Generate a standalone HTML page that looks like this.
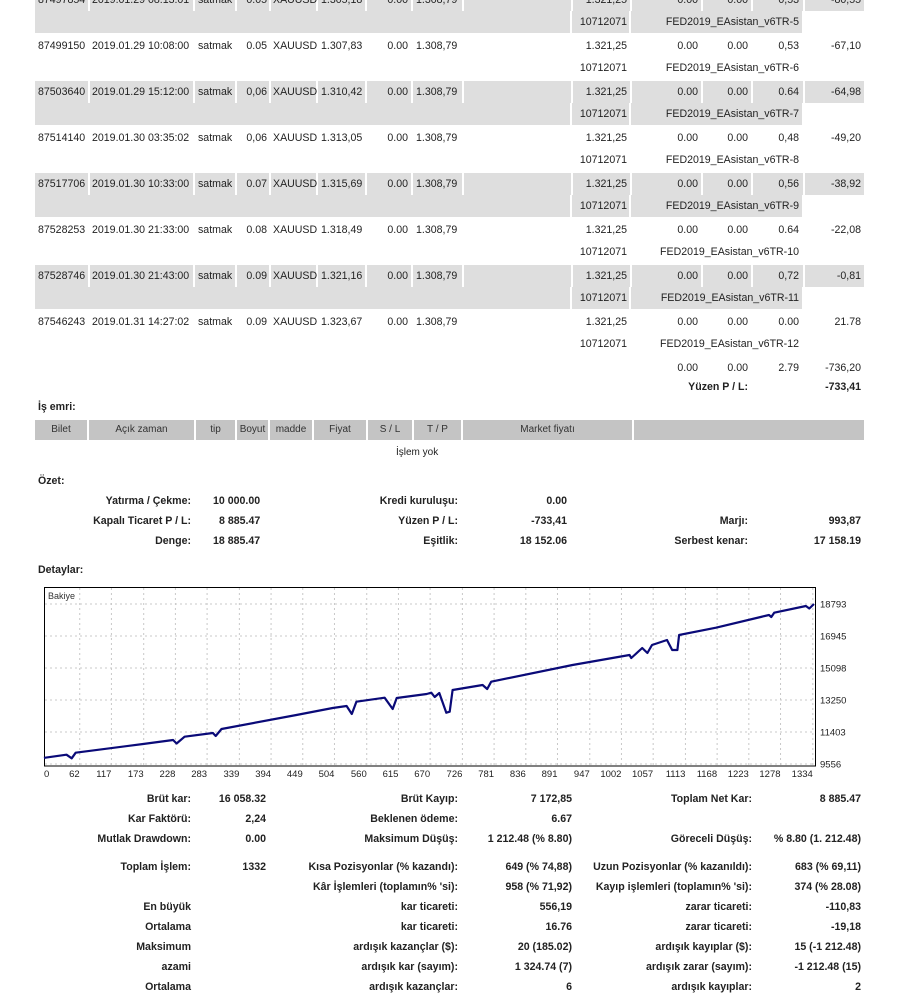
<!DOCTYPE html>
<html><head><meta charset="utf-8">
<style>
body{margin:0;width:900px;height:998px;position:relative;overflow:hidden;background:#fff;font-family:"Liberation Sans",Arial,sans-serif;color:#222;}
.t{position:absolute;white-space:nowrap;font-size:10.6px;line-height:14px;}
.b{font-weight:bold;font-size:10.6px;}
.row{position:absolute;left:35px;height:22px;display:flex;gap:2px;}
.row div{background:#dedede;height:22px;}
.hdr{position:absolute;left:35px;top:420px;height:20px;display:flex;gap:2px;}
.hdr div{background:#c4c4c4;height:20px;font-size:10px;line-height:20px;text-align:center;color:#333;}
</style></head><body>

<div class="row" style="top:-11px"><div style="width:53px"></div><div style="width:103px"></div><div style="width:40px"></div><div style="width:32px"></div><div style="width:45px"></div><div style="width:47px"></div><div style="width:44px"></div><div style="width:49px"></div><div style="width:107px"></div><div style="width:57px"></div><div style="width:69px"></div><div style="width:48px"></div><div style="width:50px"></div><div style="width:59px"></div></div>
<div class="row" style="top:11px"><div style="width:535px"></div><div style="width:57px"></div><div style="width:171px"></div></div>
<div class="row" style="top:81px"><div style="width:53px"></div><div style="width:103px"></div><div style="width:40px"></div><div style="width:32px"></div><div style="width:45px"></div><div style="width:47px"></div><div style="width:44px"></div><div style="width:49px"></div><div style="width:107px"></div><div style="width:57px"></div><div style="width:69px"></div><div style="width:48px"></div><div style="width:50px"></div><div style="width:59px"></div></div>
<div class="row" style="top:103px"><div style="width:535px"></div><div style="width:57px"></div><div style="width:171px"></div></div>
<div class="row" style="top:173px"><div style="width:53px"></div><div style="width:103px"></div><div style="width:40px"></div><div style="width:32px"></div><div style="width:45px"></div><div style="width:47px"></div><div style="width:44px"></div><div style="width:49px"></div><div style="width:107px"></div><div style="width:57px"></div><div style="width:69px"></div><div style="width:48px"></div><div style="width:50px"></div><div style="width:59px"></div></div>
<div class="row" style="top:195px"><div style="width:535px"></div><div style="width:57px"></div><div style="width:171px"></div></div>
<div class="row" style="top:265px"><div style="width:53px"></div><div style="width:103px"></div><div style="width:40px"></div><div style="width:32px"></div><div style="width:45px"></div><div style="width:47px"></div><div style="width:44px"></div><div style="width:49px"></div><div style="width:107px"></div><div style="width:57px"></div><div style="width:69px"></div><div style="width:48px"></div><div style="width:50px"></div><div style="width:59px"></div></div>
<div class="row" style="top:287px"><div style="width:535px"></div><div style="width:57px"></div><div style="width:171px"></div></div>

<div>
<span class="t" style="left:38px;top:-7px">87497854</span><span class="t" style="left:92px;top:-7px">2019.01.29 08:13:01</span><span class="t" style="left:198px;top:-7px">satmak</span><span class="t" style="right:633px;top:-7px">0.05</span><span class="t" style="left:273px;top:-7px">XAUUSD</span><span class="t" style="left:321px;top:-7px">1.305,18</span><span class="t" style="right:492px;top:-7px">0.00</span><span class="t" style="left:416px;top:-7px">1.308,79</span><span class="t" style="right:273px;top:-7px">1.321,25</span><span class="t" style="right:202px;top:-7px">0.00</span><span class="t" style="right:152px;top:-7px">0.00</span><span class="t" style="right:101px;top:-7px">0,53</span><span class="t" style="right:39px;top:-7px">-80,55</span>
<span class="t" style="right:273px;top:15px">10712071</span><span class="t" style="right:101px;top:15px">FED2019_EAsistan_v6TR-5</span></div>
<div>
<span class="t" style="left:38px;top:39px">87499150</span><span class="t" style="left:92px;top:39px">2019.01.29 10:08:00</span><span class="t" style="left:198px;top:39px">satmak</span><span class="t" style="right:633px;top:39px">0.05</span><span class="t" style="left:273px;top:39px">XAUUSD</span><span class="t" style="left:321px;top:39px">1.307,83</span><span class="t" style="right:492px;top:39px">0.00</span><span class="t" style="left:416px;top:39px">1.308,79</span><span class="t" style="right:273px;top:39px">1.321,25</span><span class="t" style="right:202px;top:39px">0.00</span><span class="t" style="right:152px;top:39px">0.00</span><span class="t" style="right:101px;top:39px">0,53</span><span class="t" style="right:39px;top:39px">-67,10</span>
<span class="t" style="right:273px;top:61px">10712071</span><span class="t" style="right:101px;top:61px">FED2019_EAsistan_v6TR-6</span></div>
<div>
<span class="t" style="left:38px;top:85px">87503640</span><span class="t" style="left:92px;top:85px">2019.01.29 15:12:00</span><span class="t" style="left:198px;top:85px">satmak</span><span class="t" style="right:633px;top:85px">0,06</span><span class="t" style="left:273px;top:85px">XAUUSD</span><span class="t" style="left:321px;top:85px">1.310,42</span><span class="t" style="right:492px;top:85px">0.00</span><span class="t" style="left:416px;top:85px">1.308,79</span><span class="t" style="right:273px;top:85px">1.321,25</span><span class="t" style="right:202px;top:85px">0.00</span><span class="t" style="right:152px;top:85px">0.00</span><span class="t" style="right:101px;top:85px">0.64</span><span class="t" style="right:39px;top:85px">-64,98</span>
<span class="t" style="right:273px;top:107px">10712071</span><span class="t" style="right:101px;top:107px">FED2019_EAsistan_v6TR-7</span></div>
<div>
<span class="t" style="left:38px;top:131px">87514140</span><span class="t" style="left:92px;top:131px">2019.01.30 03:35:02</span><span class="t" style="left:198px;top:131px">satmak</span><span class="t" style="right:633px;top:131px">0,06</span><span class="t" style="left:273px;top:131px">XAUUSD</span><span class="t" style="left:321px;top:131px">1.313,05</span><span class="t" style="right:492px;top:131px">0.00</span><span class="t" style="left:416px;top:131px">1.308,79</span><span class="t" style="right:273px;top:131px">1.321,25</span><span class="t" style="right:202px;top:131px">0.00</span><span class="t" style="right:152px;top:131px">0.00</span><span class="t" style="right:101px;top:131px">0,48</span><span class="t" style="right:39px;top:131px">-49,20</span>
<span class="t" style="right:273px;top:153px">10712071</span><span class="t" style="right:101px;top:153px">FED2019_EAsistan_v6TR-8</span></div>
<div>
<span class="t" style="left:38px;top:177px">87517706</span><span class="t" style="left:92px;top:177px">2019.01.30 10:33:00</span><span class="t" style="left:198px;top:177px">satmak</span><span class="t" style="right:633px;top:177px">0.07</span><span class="t" style="left:273px;top:177px">XAUUSD</span><span class="t" style="left:321px;top:177px">1.315,69</span><span class="t" style="right:492px;top:177px">0.00</span><span class="t" style="left:416px;top:177px">1.308,79</span><span class="t" style="right:273px;top:177px">1.321,25</span><span class="t" style="right:202px;top:177px">0.00</span><span class="t" style="right:152px;top:177px">0.00</span><span class="t" style="right:101px;top:177px">0,56</span><span class="t" style="right:39px;top:177px">-38,92</span>
<span class="t" style="right:273px;top:199px">10712071</span><span class="t" style="right:101px;top:199px">FED2019_EAsistan_v6TR-9</span></div>
<div>
<span class="t" style="left:38px;top:223px">87528253</span><span class="t" style="left:92px;top:223px">2019.01.30 21:33:00</span><span class="t" style="left:198px;top:223px">satmak</span><span class="t" style="right:633px;top:223px">0.08</span><span class="t" style="left:273px;top:223px">XAUUSD</span><span class="t" style="left:321px;top:223px">1.318,49</span><span class="t" style="right:492px;top:223px">0.00</span><span class="t" style="left:416px;top:223px">1.308,79</span><span class="t" style="right:273px;top:223px">1.321,25</span><span class="t" style="right:202px;top:223px">0.00</span><span class="t" style="right:152px;top:223px">0.00</span><span class="t" style="right:101px;top:223px">0.64</span><span class="t" style="right:39px;top:223px">-22,08</span>
<span class="t" style="right:273px;top:245px">10712071</span><span class="t" style="right:101px;top:245px">FED2019_EAsistan_v6TR-10</span></div>
<div>
<span class="t" style="left:38px;top:269px">87528746</span><span class="t" style="left:92px;top:269px">2019.01.30 21:43:00</span><span class="t" style="left:198px;top:269px">satmak</span><span class="t" style="right:633px;top:269px">0.09</span><span class="t" style="left:273px;top:269px">XAUUSD</span><span class="t" style="left:321px;top:269px">1.321,16</span><span class="t" style="right:492px;top:269px">0.00</span><span class="t" style="left:416px;top:269px">1.308,79</span><span class="t" style="right:273px;top:269px">1.321,25</span><span class="t" style="right:202px;top:269px">0.00</span><span class="t" style="right:152px;top:269px">0.00</span><span class="t" style="right:101px;top:269px">0,72</span><span class="t" style="right:39px;top:269px">-0,81</span>
<span class="t" style="right:273px;top:291px">10712071</span><span class="t" style="right:101px;top:291px">FED2019_EAsistan_v6TR-11</span></div>
<div>
<span class="t" style="left:38px;top:315px">87546243</span><span class="t" style="left:92px;top:315px">2019.01.31 14:27:02</span><span class="t" style="left:198px;top:315px">satmak</span><span class="t" style="right:633px;top:315px">0.09</span><span class="t" style="left:273px;top:315px">XAUUSD</span><span class="t" style="left:321px;top:315px">1.323,67</span><span class="t" style="right:492px;top:315px">0.00</span><span class="t" style="left:416px;top:315px">1.308,79</span><span class="t" style="right:273px;top:315px">1.321,25</span><span class="t" style="right:202px;top:315px">0.00</span><span class="t" style="right:152px;top:315px">0.00</span><span class="t" style="right:101px;top:315px">0.00</span><span class="t" style="right:39px;top:315px">21.78</span>
<span class="t" style="right:273px;top:337px">10712071</span><span class="t" style="right:101px;top:337px">FED2019_EAsistan_v6TR-12</span></div>

<div>
<span class="t" style="right:202px;top:361px">0.00</span><span class="t" style="right:152px;top:361px">0.00</span><span class="t" style="right:101px;top:361px">2.79</span><span class="t" style="right:39px;top:361px">-736,20</span>
<span class="t b" style="right:152px;top:380px">Yüzen P / L:</span><span class="t b" style="right:39px;top:380px">-733,41</span></div>

<span class="t b" style="left:38px;top:400px">İş emri:</span>
<div class="hdr"><div style="width:52px">Bilet</div><div style="width:105px">Açık zaman</div><div style="width:39px">tip</div><div style="width:31px">Boyut</div><div style="width:42px">madde</div><div style="width:52px">Fiyat</div><div style="width:44px">S / L</div><div style="width:47px">T / P</div><div style="width:169px">Market fiyatı</div><div style="width:230px"></div></div>
<span class="t" style="left:396px;top:446px;font-size:10px">İşlem yok</span>

<span class="t b" style="left:38px;top:474px">Özet:</span>
<div>
<span class="t b" style="right:709px;top:494px">Yatırma / Çekme:</span><span class="t b" style="left:213px;top:494px">10 000.00</span>
<span class="t b" style="right:442px;top:494px">Kredi kuruluşu:</span><span class="t b" style="right:333px;top:494px">0.00</span>
<span class="t b" style="right:709px;top:514px">Kapalı Ticaret P / L:</span><span class="t b" style="left:219px;top:514px">8 885.47</span>
<span class="t b" style="right:442px;top:514px">Yüzen P / L:</span><span class="t b" style="right:333px;top:514px">-733,41</span>
<span class="t b" style="right:152px;top:514px">Marjı:</span><span class="t b" style="right:39px;top:514px">993,87</span>
<span class="t b" style="right:709px;top:534px">Denge:</span><span class="t b" style="left:213px;top:534px">18 885.47</span>
<span class="t b" style="right:442px;top:534px">Eşitlik:</span><span class="t b" style="right:333px;top:534px">18 152.06</span>
<span class="t b" style="right:152px;top:534px">Serbest kenar:</span><span class="t b" style="right:39px;top:534px">17 158.19</span>
</div>
<span class="t b" style="left:38px;top:563px">Detaylar:</span>

<svg id="chart" width="900" height="200" viewBox="0 580 900 200" style="position:absolute;left:0;top:580px" font-family="Liberation Sans, Arial, sans-serif" font-size="9.5">
<rect x="44.5" y="587.5" width="771" height="178.5" fill="#fff" stroke="#000" stroke-width="1"/>
<g id="grid"></g>
<text x="48" y="599" font-size="9" fill="#333">Bakiye</text>
<g id="xlabels"></g><g id="ylabels"></g>
<path id="line" fill="none" stroke="#0a0a78" stroke-width="2.2" stroke-linejoin="round"/>
</svg>
<script>
const xTicks=[0,62,117,173,228,283,339,394,449,504,560,615,670,726,781,836,891,947,1002,1057,1113,1168,1223,1278,1334];
const yTicks=[9556,11403,13250,15098,16945,18793];
const tradeIdx=[0,2,39,48,55,172,224,230,244,293,298,308,438,501,525,534,542,591,605,612,664,672,678,686,698,704,709,761,769,776,917,1016,1019,1038,1047,1055,1081,1090,1099,1102,1166,1258,1262,1267,1322,1328,1336];
const balance=[9900,9920,10093,9885,10208,10711,10942,10740,11132,11346,11173,11577,12385,12789,12904,12443,13153,13384,12731,13366,13597,13672,13424,13655,12517,12575,13828,14117,13886,14307,15271,15848,15675,16252,15963,16425,16714,16137,16137,17003,17425,18158,18042,18290,18677,18533,18793];
const NS='http://www.w3.org/2000/svg';
function xs(v){return 44+v*(768.8/1334);}
function ys(v){return 764-(v-9556)*32/1847.4;}
const grid=document.getElementById('grid'),xl=document.getElementById('xlabels'),yl=document.getElementById('ylabels');
xTicks.forEach((v,i)=>{
  const x=xs(v);
  if(i>0){const l=document.createElementNS(NS,'line');
  
  
  l.setAttribute('x1',x);l.setAttribute('x2',x);l.setAttribute('y1',588);l.setAttribute('y2',766);
  l.setAttribute('stroke','#c8c8c8');l.setAttribute('stroke-dasharray','2,3');grid.appendChild(l);}
  const t=document.createElementNS(NS,'text');
  
  
  t.setAttribute('x',i==0?44:x);t.setAttribute('y',777);t.setAttribute('text-anchor',i==0?'start':'end');
  t.setAttribute('fill','#222');t.textContent=v;xl.appendChild(t);
});
yTicks.forEach((v)=>{
  const y=ys(v);
  const l=document.createElementNS(NS,'line');
  
  
  l.setAttribute('x1',45);l.setAttribute('x2',815);l.setAttribute('y1',y);l.setAttribute('y2',y);
  l.setAttribute('stroke','#c8c8c8');l.setAttribute('stroke-dasharray','2,3');grid.appendChild(l);
  const t=document.createElementNS(NS,'text');
  
  
  t.setAttribute('x',820);t.setAttribute('y',y+3.5);t.setAttribute('fill','#222');t.textContent=v;yl.appendChild(t);
});
document.getElementById('line').setAttribute('d',tradeIdx.map((v,i)=>(i?'L':'M')+xs(v).toFixed(1)+','+ys(balance[i]).toFixed(1)).join(''));
</script>

<div>
<span class="t b" style="right:709px;top:792px">Brüt kar:</span><span class="t b" style="right:634px;top:792px">16 058.32</span>
<span class="t b" style="right:442px;top:792px">Brüt Kayıp:</span><span class="t b" style="right:328px;top:792px">7 172,85</span>
<span class="t b" style="right:148px;top:792px">Toplam Net Kar:</span><span class="t b" style="right:39px;top:792px">8 885.47</span>
<span class="t b" style="right:709px;top:812px">Kar Faktörü:</span><span class="t b" style="right:634px;top:812px">2,24</span>
<span class="t b" style="right:442px;top:812px">Beklenen ödeme:</span><span class="t b" style="right:328px;top:812px">6.67</span>
<span class="t b" style="right:709px;top:832px">Mutlak Drawdown:</span><span class="t b" style="right:634px;top:832px">0.00</span>
<span class="t b" style="right:442px;top:832px">Maksimum Düşüş:</span><span class="t b" style="right:328px;top:832px">1 212.48 (% 8.80)</span>
<span class="t b" style="right:148px;top:832px">Göreceli Düşüş:</span><span class="t b" style="right:39px;top:832px">% 8.80 (1. 212.48)</span>
<span class="t b" style="right:709px;top:860px">Toplam İşlem:</span><span class="t b" style="right:634px;top:860px">1332</span>
<span class="t b" style="right:442px;top:860px">Kısa Pozisyonlar (% kazandı):</span><span class="t b" style="right:328px;top:860px">649 (% 74,88)</span>
<span class="t b" style="right:148px;top:860px">Uzun Pozisyonlar (% kazanıldı):</span><span class="t b" style="right:39px;top:860px">683 (% 69,11)</span>
<span class="t b" style="right:442px;top:880px">Kâr İşlemleri (toplamın% 'si):</span><span class="t b" style="right:328px;top:880px">958 (% 71,92)</span>
<span class="t b" style="right:148px;top:880px">Kayıp işlemleri (toplamın% 'si):</span><span class="t b" style="right:39px;top:880px">374 (% 28.08)</span>
<span class="t b" style="right:709px;top:900px">En büyük</span><span class="t b" style="right:442px;top:900px">kar ticareti:</span><span class="t b" style="right:328px;top:900px">556,19</span><span class="t b" style="right:148px;top:900px">zarar ticareti:</span><span class="t b" style="right:39px;top:900px">-110,83</span>
<span class="t b" style="right:709px;top:920px">Ortalama</span><span class="t b" style="right:442px;top:920px">kar ticareti:</span><span class="t b" style="right:328px;top:920px">16.76</span><span class="t b" style="right:148px;top:920px">zarar ticareti:</span><span class="t b" style="right:39px;top:920px">-19,18</span>
<span class="t b" style="right:709px;top:940px">Maksimum</span><span class="t b" style="right:442px;top:940px">ardışık kazançlar ($):</span><span class="t b" style="right:328px;top:940px">20 (185.02)</span><span class="t b" style="right:148px;top:940px">ardışık kayıplar ($):</span><span class="t b" style="right:39px;top:940px">15 (-1 212.48)</span>
<span class="t b" style="right:709px;top:960px">azami</span><span class="t b" style="right:442px;top:960px">ardışık kar (sayım):</span><span class="t b" style="right:328px;top:960px">1 324.74 (7)</span><span class="t b" style="right:148px;top:960px">ardışık zarar (sayım):</span><span class="t b" style="right:39px;top:960px">-1 212.48 (15)</span>
<span class="t b" style="right:709px;top:980px">Ortalama</span><span class="t b" style="right:442px;top:980px">ardışık kazançlar:</span><span class="t b" style="right:328px;top:980px">6</span><span class="t b" style="right:148px;top:980px">ardışık kayıplar:</span><span class="t b" style="right:39px;top:980px">2</span>
</div>
</body></html>
